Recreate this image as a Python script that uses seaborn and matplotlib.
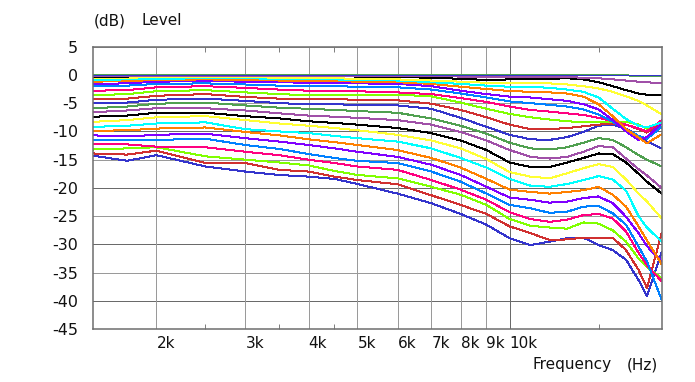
import matplotlib
matplotlib.use("Agg")
import matplotlib.pyplot as plt
import pandas as pd
import seaborn as sns
from matplotlib.ticker import FixedLocator, NullFormatter
from matplotlib.colors import to_hex

sns.set_style("white")
plt.rcParams["font.family"] = ["DejaVu Sans"]

# ---------------- data ----------------
freqs = [1500, 1750, 2000, 2500, 3000, 3500, 4000, 4500, 5000, 6000, 7000, 8000,
         9000, 10000, 11000, 12000, 13000, 14000, 15000, 16000, 17000, 18000, 18700, 20000]

c01 = [0.0] * 24
c02 = [0.0] * 20 + [-0.1, -0.15, -0.2, -0.2]
c03 = [-0.2, -0.2, -0.15, -0.15, -0.15, -0.2, -0.2, -0.2, -0.2, -0.2, -0.2, -0.3, -0.3, -0.3, -0.3, -0.3, -0.4, -0.5, -0.6, -0.8, -1.0, -1.2, -1.3, -1.5]
c04 = [-0.3, -0.3, -0.1, -0.1, -0.1, -0.2, -0.2, -0.2, -0.3, -0.4, -0.5, -0.7, -0.9, -0.8, -0.8, -0.7, -0.6, -0.8, -1.3, -2.0, -2.7, -3.3, -3.5, -3.6]
c05 = [-0.5, -0.5, -0.4, -0.4, -0.4, -0.5, -0.6, -0.6, -0.7, -0.8, -1.0, -1.2, -1.4, -1.5, -1.4, -1.5, -1.7, -2.0, -2.4, -3.0, -3.8, -4.6, -5.4, -7.0]
c06 = [-0.9, -0.8, -0.7, -0.6, -0.6, -0.7, -0.8, -0.8, -0.9, -1.0, -1.3, -1.6, -1.9, -2.1, -2.1, -2.3, -2.6, -3.0, -4.0, -6.0, -7.8, -9.0, -9.3, -8.4]
c07 = [-1.2, -1.1, -0.9, -0.8, -0.9, -1.0, -1.1, -1.1, -1.2, -1.3, -1.6, -2.1, -2.5, -2.85, -3.0, -3.1, -3.3, -3.85, -5.2, -7.3, -9.6, -11.1, -12.1, -10.5]
c08 = [-1.6, -1.5, -1.2, -1.1, -1.2, -1.3, -1.4, -1.4, -1.5, -1.6, -2.0, -2.8, -3.4, -3.85, -4.0, -4.3, -4.6, -5.2, -6.1, -8.0, -10.0, -11.5, -11.0, -8.6]
c09 = [-2.0, -1.9, -1.6, -1.5, -1.7, -1.9, -2.0, -2.0, -2.1, -2.2, -2.6, -3.3, -4.0, -4.7, -5.0, -5.3, -5.6, -6.1, -7.0, -8.3, -9.6, -10.8, -11.3, -9.2]
c10 = [-2.8, -2.7, -2.2, -2.0, -2.3, -2.6, -2.8, -2.8, -2.9, -3.1, -3.4, -4.1, -4.8, -5.6, -6.2, -6.5, -6.8, -7.1, -7.6, -8.2, -8.8, -9.5, -10.0, -8.0]
c11 = [-3.6, -3.4, -2.9, -2.7, -3.1, -3.4, -3.6, -3.6, -3.6, -3.5, -3.8, -4.9, -6.0, -6.9, -7.5, -7.9, -8.2, -8.4, -8.4, -8.3, -8.3, -8.8, -9.5, -8.3]
c12 = [-4.3, -4.2, -3.7, -3.4, -3.9, -4.2, -4.3, -4.3, -4.4, -4.5, -5.1, -6.2, -7.5, -8.8, -9.6, -9.6, -9.4, -9.1, -8.8, -8.6, -8.8, -9.6, -10.2, -8.6]
c13 = [-5.0, -4.9, -4.4, -4.2, -4.6, -5.0, -5.2, -5.2, -5.3, -5.4, -6.0, -7.6, -9.2, -10.6, -11.4, -11.5, -11.0, -10.1, -9.0, -8.8, -9.5, -10.8, -11.8, -13.0]
c14 = [-5.9, -5.6, -5.1, -4.9, -5.4, -5.8, -6.0, -6.2, -6.4, -6.7, -7.7, -9.0, -10.4, -12.0, -13.0, -13.2, -12.8, -12.0, -11.2, -11.5, -12.8, -14.2, -15.0, -16.2]
c15 = [-6.6, -6.3, -5.9, -5.9, -6.3, -6.8, -7.2, -7.4, -7.6, -8.0, -8.8, -10.1, -11.6, -13.3, -14.5, -14.8, -14.5, -13.6, -12.6, -12.8, -14.8, -16.7, -17.8, -20.0]
c16 = [-7.4, -7.2, -6.7, -6.7, -7.3, -7.7, -8.2, -8.5, -8.8, -9.4, -10.3, -11.6, -13.3, -15.5, -16.3, -16.3, -15.5, -14.7, -13.9, -14.0, -15.5, -17.5, -18.9, -21.0]
c17 = [-8.3, -8.0, -7.5, -7.3, -8.0, -8.6, -9.0, -9.4, -9.8, -10.6, -11.6, -13.0, -14.9, -17.2, -18.0, -18.3, -17.4, -16.5, -15.8, -16.3, -18.5, -21.0, -22.4, -25.4]
c18 = [-9.2, -9.0, -8.6, -8.4, -9.6, -10.0, -10.3, -10.8, -11.2, -11.8, -13.0, -14.7, -16.4, -18.4, -19.6, -19.8, -19.3, -18.6, -17.9, -18.5, -20.5, -25.0, -27.0, -29.5]
c19 = [-9.9, -9.8, -9.5, -9.3, -10.1, -10.7, -11.4, -11.9, -12.4, -13.3, -14.7, -16.4, -18.4, -20.3, -20.7, -21.0, -20.7, -20.4, -19.8, -21.2, -23.3, -26.8, -29.3, -33.5]
c20 = [-10.7, -10.9, -10.6, -10.4, -11.2, -11.8, -12.4, -13.0, -13.6, -14.5, -15.9, -17.7, -19.8, -21.7, -22.1, -22.6, -22.4, -21.8, -21.5, -22.7, -25.1, -28.0, -30.3, -33.0]
c21 = [-11.6, -11.6, -11.5, -11.3, -12.4, -13.1, -14.0, -14.7, -15.2, -15.6, -17.1, -18.9, -21.0, -23.0, -23.6, -24.4, -24.2, -23.3, -23.2, -24.5, -26.5, -30.4, -33.0, -39.8]
c22 = [-12.3, -12.3, -12.7, -12.8, -13.6, -14.2, -15.0, -15.6, -16.2, -16.8, -18.6, -20.3, -22.1, -24.3, -25.5, -26.0, -25.6, -24.8, -24.6, -25.4, -27.7, -31.5, -33.7, -36.5]
c23 = [-13.2, -13.0, -12.8, -14.4, -15.0, -15.5, -16.0, -17.0, -17.7, -18.3, -19.8, -21.2, -23.0, -25.5, -26.7, -27.0, -27.2, -26.1, -26.3, -27.5, -29.5, -32.5, -34.0, -36.0]
c24 = [-13.9, -14.1, -13.4, -15.6, -15.6, -16.8, -17.1, -18.0, -18.6, -19.35, -21.3, -23.0, -24.6, -26.8, -28.0, -29.2, -29.1, -28.8, -28.8, -28.8, -31.0, -34.5, -37.7, -27.9]
c25 = [-14.3, -15.2, -14.2, -16.2, -17.1, -17.7, -18.0, -18.4, -19.3, -21.0, -22.7, -24.6, -26.5, -28.9, -30.1, -29.5, -28.9, -28.8, -30.1, -31.0, -32.7, -36.3, -39.1, -31.3]

curves = [c01, c02, c03, c04, c05, c06, c07, c08, c09, c10, c11, c12, c13,
          c14, c15, c16, c17, c18, c19, c20, c21, c22, c23, c24, c25]
names = [f"c{i + 1:02d}" for i in range(len(curves))]

color_cycle = ["#3434cc", "#50a050", "#a050a8", "#000000", "#ffff33", "#00ffff",
               "#ff8000", "#8000ff", "#0080ff", "#ff0080", "#80ff00", "#d03030"]

yticks = list(range(-45, 6, 5))
xticks = [2000, 3000, 4000, 5000, 6000, 7000, 8000, 9000, 10000]
xticklabels = ["2k", "3k", "4k", "5k", "6k", "7k", "8k", "9k", "10k"]
xminor = [2500, 3500, 4500, 15000]

# ---------------- build frame ----------------
rows = []
for name, vals in zip(names, curves):
    for f, v in zip(freqs, vals):
        rows.append((name, f, v))
df = pd.DataFrame(rows, columns=["curve", "freq", "level"])
palette = {n: color_cycle[i % 12] for i, n in enumerate(names)}

# ---------------- figure ----------------
W, H = 695, 382
fig = plt.figure(figsize=(W / 100, H / 100), dpi=100)
L, R, T, B = 93.3, 661.7, 46.6, 329.3
ax = fig.add_axes([L / W, 1 - B / H, (R - L) / W, (B - T) / H])

ax.set_xscale("log")
ax.set_xlim(1500, 20000)
ax.set_ylim(-45, 5)

# grid
for y in yticks:
    c = "#6a6a6a" if y % 10 == 0 else "#9a9a9a"
    ax.axhline(y, color=c, lw=0.72, zorder=0.5, antialiased=False)
for x in xticks:
    c = "#6a6a6a" if x == 10000 else "#9a9a9a"
    ax.axvline(x, color=c, lw=0.72, zorder=0.5, antialiased=False)

n_before = len(ax.lines)
sns.lineplot(data=df, x="freq", y="level", hue="curve", hue_order=names[::-1],
             palette=palette, estimator=None, sort=False, legend=False,
             linewidth=0.72, ax=ax, zorder=2, antialiased=False)

# keep the 0 dB reference curve (blue) on top of the others
for ln in ax.lines[n_before:]:
    ydat = list(ln.get_ydata())
    if to_hex(ln.get_color()) == color_cycle[0] and max(abs(v) for v in ydat) == 0:
        ln.set_zorder(2.6)

ax.xaxis.set_major_locator(FixedLocator(xticks))
ax.set_xticklabels(xticklabels)
for lab in ax.get_xticklabels():
    lab.set_horizontalalignment("left")
ax.xaxis.set_minor_locator(FixedLocator(xminor))
ax.xaxis.set_minor_formatter(NullFormatter())
ax.set_yticks(yticks)
ax.set_yticklabels([str(v) for v in yticks])

ax.tick_params(axis="x", which="major", length=0, pad=4.8, labelsize=11, colors="#111111")
ax.tick_params(axis="y", which="major", length=0, pad=11, labelsize=11.5, colors="#111111")
ax.tick_params(axis="x", which="minor", direction="in", length=3.8, width=0.72,
               color="#808080", top=True, bottom=True)
ax.set_xlabel("")
ax.set_ylabel("")

for s in ax.spines.values():
    s.set_color("#6e6e6e")
    s.set_linewidth(1.1)
    s.set_zorder(3)

fig.text(93.3 / W, 1 - 25 / H, "(dB)", fontsize=11, ha="left", va="baseline", color="#111111")
fig.text(141.7 / W, 1 - 25 / H, "Level", fontsize=11, ha="left", va="baseline", color="#111111")
fig.text(532.7 / W, 1 - 369 / H, "Frequency", fontsize=11, ha="left", va="baseline", color="#111111")
fig.text(626.7 / W, 1 - 369 / H, "(Hz)", fontsize=11, ha="left", va="baseline", color="#111111")

fig.savefig("out.png", dpi=100, facecolor="white")
